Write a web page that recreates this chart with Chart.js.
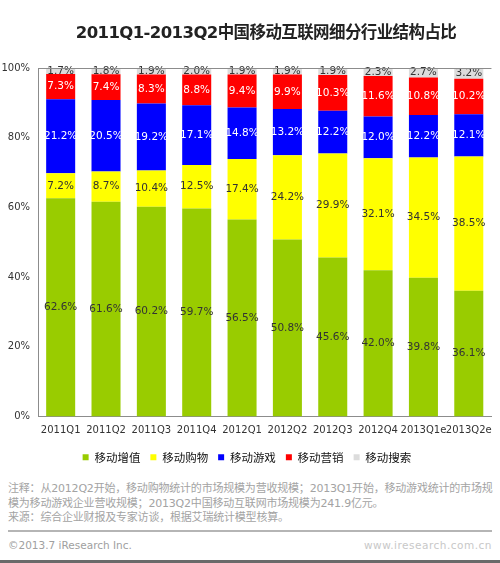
<!DOCTYPE html>
<html>
<head>
<meta charset="utf-8">
<script src="https://cdn.jsdelivr.net/npm/chart.js@4/dist/chart.umd.min.js"></script>
<style>
  body { margin: 0; background: #fff; }
  #page { position: relative; width: 500px; height: 563px; overflow: hidden; font-family: "DejaVu Sans", "Noto Sans CJK SC", sans-serif; }
  #title { position: absolute; left: 38px; width: 456px; top: 19px; text-align: center; font: bold 16.5px "DejaVu Sans", "Noto Sans CJK SC", sans-serif; color: #222; letter-spacing: -0.6px; }
  #chart-wrap { position: absolute; left: 0; top: 0; width: 500px; height: 475px; }
  .note { position: absolute; left: 8px; font-size: 11px; color: #a3a3a3; white-space: nowrap; font-family: "DejaVu Sans", "Noto Sans CJK SC", sans-serif; letter-spacing: -0.2px; }
  #rule { position: absolute; left: 8px; width: 484px; top: 530px; height: 2px; background: #b5b5b5; }
  #foot-l { position: absolute; left: 8px; top: 539px; font-size: 10.5px; color: #a0a0a0; }
  #foot-r { position: absolute; right: 8px; top: 539px; font-size: 10.5px; color: #c8c8c8; letter-spacing: 0.5px; }
  #bottom-bar { position: absolute; left: 0; width: 500px; top: 560px; height: 3px; background: #6a6a6a; }
</style>
</head>
<body>
<div id="page">
  <div id="chart-wrap"><canvas id="structureChart"></canvas></div>
  <div id="title">2011Q1-2013Q2中国移动互联网细分行业结构占比</div>
  <div class="note" style="top:479px">注释：从2012Q2开始，移动购物统计的市场规模为营收规模；2013Q1开始，移动游戏统计的市场规</div>
  <div class="note" style="top:494px">模为移动游戏企业营收规模；2013Q2中国移动互联网市场规模为241.9亿元。</div>
  <div class="note" style="top:508px">来源：综合企业财报及专家访谈，根据艾瑞统计模型核算。</div>
  <div id="rule"></div>
  <div id="foot-l">©2013.7 iResearch Inc.</div>
  <div id="foot-r">www.iresearch.com.cn</div>
  <div id="bottom-bar"></div>
</div>
<script>
const categories = ["2011Q1", "2011Q2", "2011Q3", "2011Q4", "2012Q1", "2012Q2", "2012Q3", "2012Q4", "2013Q1e", "2013Q2e"];
const seriesNames = ["移动增值", "移动购物", "移动游戏", "移动营销", "移动搜索"];
const valueAdded = [62.6, 61.6, 60.2, 59.7, 56.5, 50.8, 45.6, 42.0, 39.8, 36.1];
const shopping = [7.2, 8.7, 10.4, 12.5, 17.4, 24.2, 29.9, 32.1, 34.5, 38.5];
const games = [21.2, 20.5, 19.2, 17.1, 14.8, 13.2, 12.2, 12.0, 12.2, 12.1];
const marketing = [7.3, 7.4, 8.3, 8.8, 9.4, 9.9, 10.3, 11.6, 10.8, 10.2];
const search = [1.7, 1.8, 1.9, 2.0, 1.9, 1.9, 1.9, 2.3, 2.7, 3.2];
const yTicks = [0, 20, 40, 60, 80, 100];

const seriesValues = [valueAdded, shopping, games, marketing, search];
const barColors = ["#99CC00", "#FFFF00", "#0000FF", "#FF0000", "#DCDCDC"];
const labelColors = ["#333333", "#333333", "#FFFFFF", "#FFFFFF", "#333333"];

// writes each segment's value in its middle
const segmentLabels = {
    id: "segmentLabels",
    afterDatasetsDraw(chart) {
        const ctx = chart.ctx;
        ctx.save();
        ctx.font = "10.5px 'DejaVu Sans', sans-serif";
        ctx.textAlign = "center";
        ctx.textBaseline = "middle";
        chart.data.datasets.forEach((ds, i) => {
            ctx.fillStyle = labelColors[i];
            chart.getDatasetMeta(i).data.forEach((bar, j) => {
                const y = (bar.y + bar.base) / 2;
                ctx.fillText(ds.data[j].toFixed(1) + "%", bar.x, y);
            });
        });
        ctx.restore();
    }
};

// top line of the plot frame
const frameTop = {
    id: "frameTop",
    afterDraw(chart) {
        const a = chart.chartArea;
        const ctx = chart.ctx;
        ctx.save();
        ctx.strokeStyle = "#8c8c8c";
        ctx.lineWidth = 1;
        ctx.beginPath();
        ctx.moveTo(a.left, a.top + 0.5);
        ctx.lineTo(a.right, a.top + 0.5);
        ctx.stroke();
        ctx.restore();
    }
};

new Chart(document.getElementById("structureChart"), {
    type: "bar",
    data: {
        labels: categories,
        datasets: seriesValues.map((vals, i) => ({
            label: seriesNames[i],
            data: vals,
            backgroundColor: barColors[i],
            borderWidth: 0,
            barPercentage: 1,
            categoryPercentage: 0.64
        }))
    },
    options: {
        responsive: true,
        maintainAspectRatio: false,
        animation: false,
        layout: { padding: { top: 68, right: 6, bottom: 2, left: 0 } },
        scales: {
            x: {
                stacked: true,
                grid: { display: false, drawTicks: false },
                border: { display: true, color: "#8c8c8c", width: 1 },
                ticks: {
                    color: "#333",
                    font: { family: "DejaVu Sans", size: 10 },
                    padding: 8,
                    autoSkip: false,
                    maxRotation: 0
                },
                afterFit(scale) { scale.height = 25; }
            },
            y: {
                stacked: true,
                min: 0,
                max: 100,
                afterBuildTicks(scale) { scale.ticks = yTicks.map(v => ({ value: v })); },
                grid: { display: false, drawTicks: false },
                border: { display: true, color: "#8c8c8c", width: 1 },
                ticks: {
                    color: "#333",
                    font: { family: "DejaVu Sans", size: 10 },
                    padding: 8,
                    callback: v => v + "%"
                },
                afterFit(scale) { scale.width = 38; }
            }
        },
        plugins: {
            legend: {
                position: "bottom",
                labels: {
                    boxWidth: 6,
                    boxHeight: 6,
                    padding: 10,
                    color: "#111",
                    font: { family: "Noto Sans CJK SC", size: 11.5 }
                }
            },
            tooltip: { enabled: false }
        }
    },
    plugins: [segmentLabels, frameTop]
});
</script>
</body>
</html>
